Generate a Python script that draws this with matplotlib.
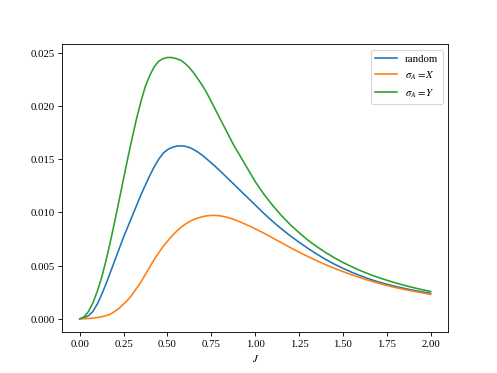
import numpy as np
import matplotlib as mpl
mpl.use('Agg')
import matplotlib.pyplot as plt

mpl.rcParams['font.family'] = 'serif'
mpl.rcParams['font.serif'] = ['Liberation Serif', 'DejaVu Serif']
mpl.rcParams['mathtext.fontset'] = 'stix'

J = np.round(np.concatenate([np.arange(0, 41) * 0.025,
                             1.0 + np.arange(1, 21) * 0.05]), 3)

rand_vals = [
    0.0, 0.0001, 0.0003, 0.0007, 0.0014, 0.0023, 0.0033, 0.0044, 0.0055, 0.0066,
    0.0077, 0.0087, 0.0097, 0.0107, 0.0117, 0.0126, 0.0135, 0.0143, 0.0150, 0.01555,
    0.0159, 0.0161, 0.01622, 0.01626, 0.01622, 0.0161, 0.0159, 0.01565, 0.01535, 0.0150,
    0.01465, 0.01428, 0.0139, 0.0135, 0.0131, 0.0127, 0.0123, 0.0119, 0.0115, 0.0111,
    0.0107,
    0.0099, 0.00915, 0.00845, 0.0078, 0.0072, 0.00663, 0.0061, 0.0056, 0.00515, 0.00475,
    0.00438, 0.00405, 0.00375, 0.00348, 0.00325, 0.00305, 0.00286, 0.00269, 0.00254, 0.0024,
]
sx_vals = [
    0.0, 0.00001, 0.00003, 0.00007, 0.00012, 0.0002, 0.0003, 0.00045, 0.0007, 0.0010,
    0.0014, 0.0018, 0.0023, 0.0029, 0.0035, 0.0042, 0.0049, 0.0056, 0.0062, 0.0068,
    0.0073, 0.00777, 0.0082, 0.00857, 0.00888, 0.00913, 0.00933, 0.00948, 0.0096, 0.00968,
    0.00972, 0.00972, 0.00968, 0.0096, 0.0095, 0.00936, 0.0092, 0.00903, 0.00885, 0.00866,
    0.00846,
    0.00805, 0.0076, 0.00715, 0.0067, 0.00627, 0.00586, 0.00547, 0.0051, 0.00476, 0.00444,
    0.00414, 0.00386, 0.0036, 0.00336, 0.00314, 0.00294, 0.00276, 0.0026, 0.00245, 0.0023,
]
sy_vals = [
    0.0, 0.0002, 0.0007, 0.0015, 0.0026, 0.0039, 0.0055, 0.0073, 0.0092, 0.0112,
    0.0132, 0.0152, 0.0171, 0.0189, 0.0205, 0.0219, 0.0229, 0.0237, 0.0242, 0.02445,
    0.02456, 0.02455, 0.02445, 0.0243, 0.0240, 0.0236, 0.0231, 0.0225, 0.0219, 0.0212,
    0.0204, 0.0196, 0.0188, 0.0180, 0.0172, 0.0164, 0.0157, 0.0150, 0.0143, 0.0136,
    0.0129,
    0.0117, 0.01065, 0.0097, 0.00885, 0.0081, 0.0074, 0.0068, 0.00625, 0.00575, 0.0053,
    0.0049, 0.00453, 0.0042, 0.0039, 0.00363, 0.00338, 0.00315, 0.00294, 0.00275, 0.00257,
]

fig, ax = plt.subplots(figsize=(6.4, 4.8), dpi=77.8)
ax.plot(J, rand_vals, label='random')
ax.plot(J, sx_vals, label=r'$\sigma_A = X$')
ax.plot(J, sy_vals, label=r'$\sigma_A = Y$')
ax.set_xlabel('$J$')
ax.legend(loc='upper right')

fig.savefig('out.png', dpi=77.8)
